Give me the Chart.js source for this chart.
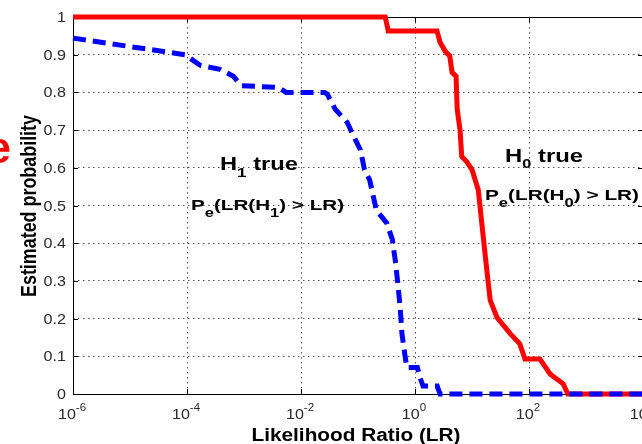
<!DOCTYPE html>
<html><head><meta charset="utf-8">
<script src="https://cdn.jsdelivr.net/npm/chart.js@4"></script>
<style>
html,body{margin:0;padding:0;background:#fff;overflow:hidden;width:642px;height:444px}
#wrap{width:660px;height:444px;position:relative}
</style>
</head><body><div id="wrap"><canvas id="c" width="660" height="444"></canvas></div>
<script>
// ---- data ----
// H1 true (blue dashed): likelihood ratio vs estimated probability
const h1LR   = [1e-6, 9.2e-5, 1.7e-4, 3.8e-4, 6.5e-4, 8.9e-4, 4.0e-3, 5.5e-3, 0.026, 0.029, 0.040, 0.065, 0.081, 0.11, 0.13, 0.16, 0.18, 0.21, 0.32, 0.40, 0.45, 0.50, 0.55, 0.59, 0.66, 0.72, 1.1, 1.23, 1.38, 2.45, 2.75, 1e4];
const h1Prob = [0.944, 0.90, 0.872, 0.861, 0.843, 0.818, 0.813, 0.80, 0.80, 0.795, 0.755, 0.72, 0.688, 0.648, 0.595, 0.568, 0.533, 0.488, 0.453, 0.41, 0.355, 0.293, 0.229, 0.16, 0.107, 0.07, 0.07, 0.043, 0.021, 0.021, 0, 0];
// H0 true (red solid)
const h0LR   = [1e-6, 0.30, 0.34, 2.43, 2.75, 3.47, 4.07, 4.47, 5.25, 5.5, 6.17, 6.6, 8.1, 10, 12.9, 15.1, 18.2, 20.9, 27.5, 46.8, 69, 85, 155, 234, 398, 479, 1e4];
const h0Prob = [1, 1, 0.963, 0.963, 0.933, 0.907, 0.897, 0.853, 0.843, 0.755, 0.70, 0.63, 0.616, 0.595, 0.541, 0.443, 0.328, 0.248, 0.203, 0.16, 0.133, 0.093, 0.093, 0.053, 0.027, 0, 0];

const xTickExponents = [-6, -4, -2, 0, 2, 4];
const yTickValues = [0, 0.1, 0.2, 0.3, 0.4, 0.5, 0.6, 0.7, 0.8, 0.9, 1];
const yTickLabels = ['0', '0.1', '0.2', '0.3', '0.4', '0.5', '0.6', '0.7', '0.8', '0.9', '1'];
const xTitle = 'Likelihood Ratio (LR)';
const yTitle = 'Estimated probability';

const FAM = '"Liberation Sans", Arial, sans-serif';

function drawRuns(ctx, runs, x, y, opt) {
  ctx.save();
  ctx.fillStyle = opt.color || '#000';
  ctx.textBaseline = 'alphabetic';
  ctx.textAlign = 'left';
  let total = 0;
  const ws = runs.map(r => { ctx.font = `${r.w || 'normal'} ${r.s}px ${FAM}`; const w = ctx.measureText(r.t).width; total += w; return w; });
  const sx = opt.target ? opt.target / total : (opt.sx || 1);
  const align = opt.align || 'left';
  const start = align === 'center' ? x - total * sx / 2 : align === 'right' ? x - total * sx : x;
  ctx.translate(start, y);
  ctx.scale(sx, 1);
  let cx = 0;
  runs.forEach((r, i) => { ctx.font = `${r.w || 'normal'} ${r.s}px ${FAM}`; ctx.fillText(r.t, cx, r.dy || 0); cx += ws[i]; });
  ctx.restore();
}

const frame = {
  id: 'frame',
  beforeDatasetsDraw(chart) {
    const {ctx, chartArea: a, scales: {x, y}} = chart;
    ctx.save();
    ctx.strokeStyle = '#000';
    ctx.lineWidth = 1;
    ctx.strokeRect(a.left + 0.5, a.top + 0.5, a.right - a.left, a.bottom - a.top);
    ctx.beginPath();
    yTickValues.forEach(v => {
      const py = Math.round(y.getPixelForValue(v)) + 0.5;
      ctx.moveTo(a.left, py); ctx.lineTo(a.left + 5, py);
      ctx.moveTo(a.right, py); ctx.lineTo(a.right - 5, py);
    });
    xTickExponents.forEach(e => {
      const px = Math.round(x.getPixelForValue(Math.pow(10, e))) + 0.5;
      ctx.moveTo(px, a.bottom); ctx.lineTo(px, a.bottom - 5);
      ctx.moveTo(px, a.top); ctx.lineTo(px, a.top + 5);
    });
    ctx.stroke();
    ctx.restore();
  },
  afterDraw(chart) {
    const {ctx, chartArea: a, scales: {x, y}} = chart;
    // y tick labels
    yTickValues.forEach((v, i) => {
      const py = y.getPixelForValue(v);
      drawRuns(ctx, [{t: yTickLabels[i], s: 14}], a.left - 7, py + 5, {align: 'right', sx: 1.15, color: '#2a2a2a'});
    });
    // x tick labels with superscript exponent
    xTickExponents.forEach(e => {
      const px = x.getPixelForValue(Math.pow(10, e));
      drawRuns(ctx, [{t: '10', s: 14}, {t: String(e), s: 10, dy: -8}], px - 1, 419, {align: 'center', sx: 1.15, color: '#2a2a2a'});
    });
    // axis titles
    drawRuns(ctx, [{t: xTitle, s: 18, w: 'bold'}], 356, 441, {align: 'center', target: 209});
    ctx.save();
    ctx.translate(36, 206);
    ctx.rotate(-Math.PI / 2);
    ctx.scale(1, 1.2);
    drawRuns(ctx, [{t: yTitle, s: 18, w: 'bold'}], 0, 0, {align: 'center', target: 182});
    ctx.restore();
    // annotations
    drawRuns(ctx, [{t: 'H', s: 18, w: 'bold'}, {t: '1', s: 13, w: 'bold', dy: 7}, {t: ' true', s: 18, w: 'bold'}], 220, 170, {target: 78});
    drawRuns(ctx, [{t: 'P', s: 15, w: 'bold'}, {t: 'e', s: 12, w: 'bold', dy: 7}, {t: '(LR(H', s: 15, w: 'bold'}, {t: '1', s: 12, w: 'bold', dy: 7}, {t: ') > LR)', s: 15, w: 'bold'}], 191, 210, {target: 153});
    drawRuns(ctx, [{t: 'H', s: 19, w: 'bold'}, {t: '0', s: 13, w: 'bold', dy: 6}, {t: ' true', s: 19, w: 'bold'}], 505, 162, {target: 78});
    drawRuns(ctx, [{t: 'P', s: 15, w: 'bold'}, {t: 'e', s: 12, w: 'bold', dy: 7}, {t: '(LR(H', s: 15, w: 'bold'}, {t: '0', s: 12, w: 'bold', dy: 7}, {t: ') > LR)', s: 15, w: 'bold'}], 485, 200, {target: 154});
    // red letter clipped at the left edge
    drawRuns(ctx, [{t: 'e', s: 44, w: 'bold'}], 11, 163, {align: 'right', color: '#ff0000'});
  }
};

new Chart(document.getElementById('c'), {
  type: 'line',
  data: {
    datasets: [
      {
        label: 'H1 true',
        data: h1LR.map((v, i) => ({x: v, y: h1Prob[i]})),
        borderColor: '#0000ff',
        borderWidth: 5,
        borderDash: [13, 7],
        borderCapStyle: 'butt',
        pointRadius: 0,
        tension: 0,
        fill: false,
        clip: false,
        order: 0
      },
      {
        label: 'H0 true',
        data: h0LR.map((v, i) => ({x: v, y: h0Prob[i]})),
        borderColor: '#ff0000',
        borderWidth: 5,
        pointRadius: 0,
        tension: 0,
        fill: false,
        clip: false,
        order: 1
      }
    ]
  },
  options: {
    responsive: false,
    animation: false,
    layout: {padding: {left: 0, top: 17, right: 17, bottom: 0}},
    plugins: {legend: {display: false}, tooltip: {enabled: false}},
    scales: {
      x: {
        type: 'logarithmic',
        min: 1e-6,
        max: 1e4,
        afterBuildTicks: s => { s.ticks = xTickExponents.map(e => ({value: Math.pow(10, e)})); },
        afterFit: s => { s.height = 50; },
        ticks: {display: false},
        grid: {color: '#555', lineWidth: 1, drawTicks: false},
        border: {display: false, dash: [1.5, 3.5]}
      },
      y: {
        type: 'linear',
        min: 0,
        max: 1,
        afterBuildTicks: s => { s.ticks = yTickValues.map(v => ({value: v})); },
        afterFit: s => { s.width = 73; },
        ticks: {display: false},
        grid: {color: '#555', lineWidth: 1, drawTicks: false},
        border: {display: false, dash: [1.5, 3.5]}
      }
    }
  },
  plugins: [frame]
});
</script>
</body></html>
